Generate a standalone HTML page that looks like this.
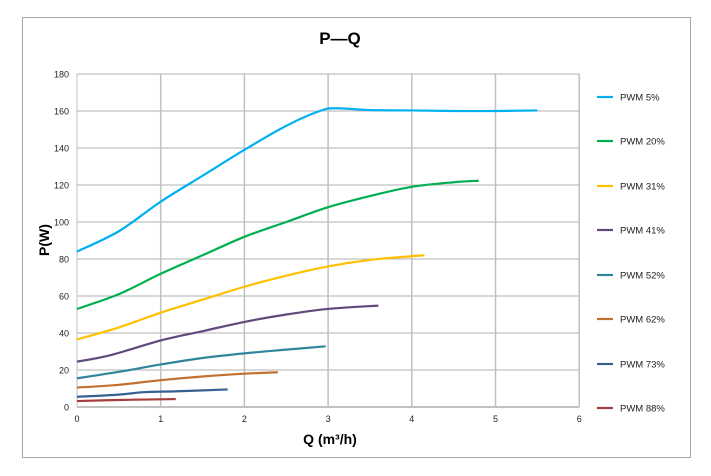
<!DOCTYPE html>
<html><head><meta charset="utf-8"><style>
body{margin:0;background:#fff;}
svg{display:block;font-family:"Liberation Sans",sans-serif;}
</style></head><body>
<svg id="s" width="711" height="476" xmlns="http://www.w3.org/2000/svg">
<rect x="22.5" y="17.5" width="668" height="440" fill="#fff" stroke="#a6a6a6"/>
<text x="340" y="44" font-size="17" font-weight="bold" text-anchor="middle">P—Q</text>
<g id="grid"></g>
<g id="lines"></g>
<text x="330" y="444" font-size="14" font-weight="bold" text-anchor="middle">Q (m³/h)</text>
<text transform="translate(49,240) rotate(-90)" font-size="14" font-weight="bold" text-anchor="middle">P(W)</text>
</svg>
<script>
var NS="http://www.w3.org/2000/svg";
function fx(q){return 77+83.7*q}function fy(p){return 407-1.85*p}
var g=document.getElementById('grid'),L=document.getElementById('lines');
function el(t,a,p,txt){var e=document.createElementNS(NS,t);for(var k in a)e.setAttribute(k,a[k]);if(txt!==undefined)e.textContent=txt;p.appendChild(e);return e}
for(var i=0;i<=9;i++){var y=fy(i*20);el('line',{x1:77,x2:fx(6),y1:y,y2:y,stroke:i==0?'#868686':'#b0b0b0','stroke-width':1},g);
el('text',{x:69,y:y+3.5,'font-size':9,'text-anchor':'end',fill:'#222'},g,i*20);}
for(var i=0;i<=6;i++){var x=fx(i);el('line',{x1:x,x2:x,y1:fy(180),y2:407,stroke:'#c0c0c0','stroke-width':i==0?1:1.5},g);
el('text',{x:x,y:422,'font-size':9,'text-anchor':'middle',fill:'#222'},g,i);}
var S=[
['PWM 5%','#00b0f0',[[0,84],[0.5,95],[1,111],[1.5,125],[2,139],[2.5,152],[2.9,160],[3.1,161.5],[3.5,160.5],[4,160.3],[4.5,160],[5,160],[5.5,160.3]]],
['PWM 20%','#00b050',[[0,53],[0.5,61],[1,72],[1.5,82],[2,92],[2.5,100],[3,108],[3.5,114],[4,119],[4.5,121.5],[4.8,122.3]]],
['PWM 31%','#ffc000',[[0,36.5],[0.5,43],[1,51],[1.5,58],[2,65],[2.5,71],[3,76],[3.5,79.5],[4,81.5],[4.15,82]]],
['PWM 41%','#604a7b',[[0,24.5],[0.4,28],[1,36],[1.5,41],[2,46],[2.5,50],[3,53],[3.6,54.8]]],
['PWM 52%','#31859c',[[0,15.5],[0.5,19],[1,23],[1.5,26.5],[2,29],[2.5,31],[2.97,32.8]]],
['PWM 62%','#c0702f',[[0,10.5],[0.5,12],[1,14.5],[1.5,16.5],[2,18],[2.4,18.8]]],
['PWM 73%','#376092',[[0,5.5],[0.5,6.7],[0.8,8],[1.2,8.5],[1.8,9.5]]],
['PWM 88%','#a63c3c',[[0,3.2],[0.5,3.8],[1.18,4.3]]]];
var ly=[97,141,186,230,275,319,364,408];
S.forEach(function(s,k){var P=s[2].map(function(p){return [fx(p[0]),fy(p[1])]});
var d='M'+P[0][0]+','+P[0][1];
for(var i=0;i<P.length-1;i++){var p0=P[Math.max(0,i-1)],p1=P[i],p2=P[i+1],p3=P[Math.min(P.length-1,i+2)];
d+=' C'+(p1[0]+(p2[0]-p0[0])/6)+','+(p1[1]+(p2[1]-p0[1])/6)+' '+(p2[0]-(p3[0]-p1[0])/6)+','+(p2[1]-(p3[1]-p1[1])/6)+' '+p2[0]+','+p2[1];}
el('path',{d:d,fill:'none',stroke:s[1],'stroke-width':2.2},L);
el('line',{x1:597,x2:613,y1:ly[k],y2:ly[k],stroke:s[1],'stroke-width':2.2},L);
el('text',{x:620,y:ly[k]+3.5,'font-size':9.5,fill:'#222'},L,s[0]);});
</script>
</body></html>
